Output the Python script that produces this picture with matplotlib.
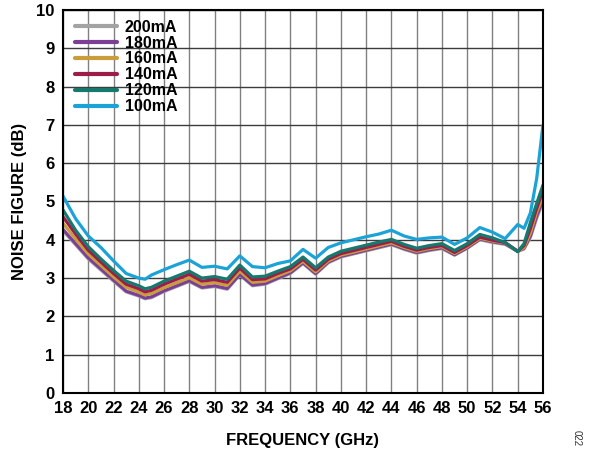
import matplotlib
matplotlib.use("Agg")
import matplotlib.pyplot as plt

plt.rcParams['font.family'] = ['Liberation Sans', 'DejaVu Sans']

freq = [18, 19, 20, 21, 22, 23, 24, 24.5, 25, 26, 27, 28, 29, 30, 31, 32, 33, 34, 35, 36,
        37, 38, 39, 40, 41, 42, 43, 44, 45, 46, 47, 48, 49, 50, 51, 52, 53, 54, 54.5,
        55, 55.5, 56]

nf_100 = [5.14, 4.55, 4.10, 3.80, 3.45, 3.12, 3.00, 2.97, 3.08, 3.22, 3.35, 3.47, 3.28, 3.31, 3.24, 3.58,
          3.30, 3.27, 3.38, 3.45, 3.75, 3.52, 3.80, 3.92, 4.00, 4.08, 4.15, 4.25, 4.10, 4.01,
          4.05, 4.07, 3.88, 4.05, 4.32, 4.20, 4.03, 4.40, 4.30, 4.70, 5.60, 7.00]
nf_120 = [4.78, 4.25, 3.82, 3.50, 3.20, 2.92, 2.80, 2.72, 2.76, 2.92, 3.05, 3.18, 3.00, 3.04, 2.97, 3.34,
          3.03, 3.05, 3.18, 3.30, 3.55, 3.27, 3.55, 3.70, 3.78, 3.86, 3.94, 4.01, 3.88, 3.78,
          3.85, 3.90, 3.72, 3.90, 4.14, 4.05, 3.93, 3.69, 3.90, 4.45, 4.95, 5.43]
nf_140 = [4.60, 4.15, 3.73, 3.42, 3.12, 2.84, 2.72, 2.64, 2.68, 2.84, 2.97, 3.10, 2.92, 2.96, 2.89, 3.26,
          2.96, 2.98, 3.12, 3.24, 3.49, 3.21, 3.49, 3.64, 3.72, 3.80, 3.88, 3.96, 3.83, 3.73,
          3.80, 3.85, 3.67, 3.85, 4.07, 3.99, 3.93, 3.70, 3.85, 4.30, 4.82, 5.30]
nf_160 = [4.43, 4.02, 3.63, 3.33, 3.03, 2.76, 2.63, 2.56, 2.60, 2.75, 2.88, 3.01, 2.84, 2.88, 2.81, 3.18,
          2.89, 2.92, 3.06, 3.19, 3.44, 3.16, 3.45, 3.60, 3.68, 3.76, 3.84, 3.92, 3.80, 3.70,
          3.77, 3.82, 3.64, 3.82, 4.04, 3.97, 3.92, 3.70, 3.80, 4.18, 4.72, 5.15]
nf_180 = [4.27, 3.90, 3.53, 3.24, 2.95, 2.66, 2.55, 2.48, 2.51, 2.67, 2.80, 2.93, 2.76, 2.80, 2.73, 3.10,
          2.82, 2.86, 3.00, 3.14, 3.40, 3.12, 3.42, 3.57, 3.65, 3.73, 3.81, 3.89, 3.77, 3.67,
          3.74, 3.79, 3.61, 3.79, 4.02, 3.95, 3.90, 3.70, 3.78, 4.10, 4.62, 5.05]
nf_200 = [4.24, 3.87, 3.50, 3.21, 2.92, 2.64, 2.53, 2.46, 2.49, 2.65, 2.78, 2.91, 2.74, 2.78, 2.71, 3.08,
          2.80, 2.84, 2.98, 3.12, 3.38, 3.10, 3.40, 3.55, 3.63, 3.71, 3.79, 3.87, 3.75, 3.65,
          3.72, 3.77, 3.60, 3.78, 4.00, 3.93, 3.88, 3.70, 3.76, 4.06, 4.56, 5.00]

labels = ['200mA', '180mA', '160mA', '140mA', '120mA', '100mA']
colors = ['#a3a3a3', '#7b3f98', '#c99d3c', '#9e1c48', '#15796e', '#1ba3d8']
series = [nf_200, nf_180, nf_160, nf_140, nf_120, nf_100]

x_ticks = list(range(18, 57, 2))
y_ticks = list(range(0, 11))

fig = plt.figure(figsize=(5.89, 4.5), dpi=100)
ax = fig.add_axes([63 / 589, 57 / 450, 480 / 589, 383 / 450])

for xv in x_ticks:
    ax.axvline(xv, color='#808080', lw=1.0, zorder=1)
for yv in y_ticks:
    ax.axhline(yv, color='#3c3c3c', lw=1.0, zorder=1)

for vals, lab, col in zip(series, labels, colors):
    ax.plot(freq, vals, color=col, lw=2.3, label=lab, zorder=3,
            solid_joinstyle='round', solid_capstyle='round')

ax.set_xlim(18, 56)
ax.set_ylim(0, 10)
ax.set_xticks(x_ticks)
ax.set_yticks(y_ticks)
ax.tick_params(length=0, pad=6, labelsize=12)
for lbl in ax.get_xticklabels() + ax.get_yticklabels():
    lbl.set_fontweight('bold')
for sp in ax.spines.values():
    sp.set_linewidth(1.5)
    sp.set_color('black')
    sp.set_zorder(5)

ax.set_xlabel('FREQUENCY (GHz)', fontsize=12, fontweight='bold', labelpad=12)
ax.set_ylabel('NOISE FIGURE (dB)', fontsize=12, fontweight='bold', labelpad=7)

leg = ax.legend(loc='upper left', bbox_to_anchor=(0.025, 0.975), frameon=False,
                fontsize=11.5, handlelength=2.6, handletextpad=0.5, labelspacing=0.06,
                borderpad=0, borderaxespad=0)
for t in leg.get_texts():
    t.set_fontweight('bold')
for h in leg.legend_handles:
    h.set_linewidth(3)

fig.text(577 / 589, 1 - 438 / 450, '022', rotation=-90, fontsize=7, ha='center', va='center',
         color='#333333')

fig.savefig('out.png', dpi=100)
